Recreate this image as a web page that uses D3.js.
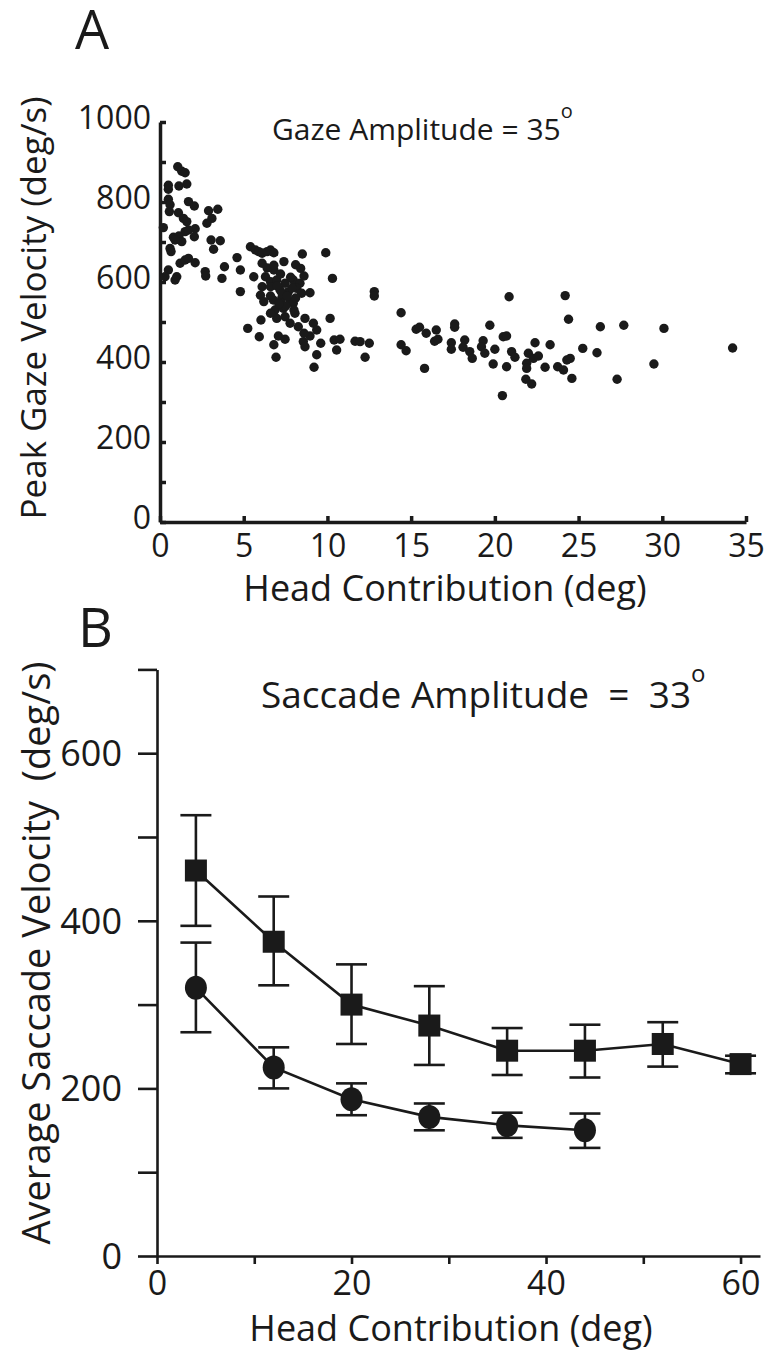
<!DOCTYPE html>
<html>
<head>
<meta charset="utf-8">
<script src="https://cdn.jsdelivr.net/npm/d3@7"></script>
<style>
  body { margin: 0; background: #fff; }
  svg { display: block; font-family: 'Open Sans', sans-serif; }
  .axis text { font-family: 'Open Sans', sans-serif; fill: #1a1a1a; }
  .axis path, .axis line { stroke: #1a1a1a; }
</style>
</head>
<body>
<script>
// panel A : head contribution (deg) vs peak gaze velocity (deg/s)
const scatterA = [
  [1.06,888],[1.3,877],[1.5,873],[0.5,842],[0.5,832],[1.13,840],[1.6,845],
  [0.5,807],[0.6,793],[1.7,801],[2.05,790],[2.9,778],[3.45,782],
  [0.56,776],[1.1,773],[1.4,759],[1.6,751],[3.1,759],[2.8,747],
  [0.2,736],[2.1,733],[2.05,713],[0.8,712],[1.13,715],[1.5,726],[1.7,730],
  [1.3,701],[0.9,705],[3.05,705],[3.6,703],[3.2,682],[0.6,684],[0.66,676],
  [1.2,647],[1.5,655],[1.7,659],[2.1,648],[3.85,638],[4.8,630],
  [2.7,626],[2.73,615],[0.5,630],[0.3,613],[1.0,613],[0.9,605],[3.7,609],[4.6,661],
  [5.4,688],[5.7,680],[5.9,676],[6.1,672],[6.4,676],[6.6,680],[6.8,673],
  [8.5,670],[9.9,673],[7.4,651],[8.1,643],[8.4,634],[6.8,630],
  [6.1,647],[6.4,635],[6.8,642],[6.3,613],[6.6,601],[5.6,613],[10.3,609],
  [6.1,588],[6.6,588],[4.8,576],
  [6.97,605],[7.47,597],[7.96,605],[8.36,597],[7.17,580],[7.67,576],[8.17,584],
  [6.77,555],[7.27,559],[7.77,551],[8.46,572],[6.87,530],[7.37,534],[7.96,547],
  [6.97,509],[7.47,513],[8.96,573],[8.06,522],[8.66,509],[7.77,497],[8.26,488],
  [9.16,497],[9.36,480],[10.16,509],[7.07,465],[7.47,457],[8.56,451],[8.66,438],
  [8.96,465],[9.6,447],[10.4,455],[10.75,457],[6.8,443],[6.93,412],[9.36,418],
  [10.55,430],[9.2,387],[6.0,567],[6.2,551],[6.6,522],[6.03,505],[5.24,484],[5.93,463],
  [8.6,472],[7.0,590],[7.3,570],[7.6,565],[7.9,585],[8.1,560],[7.5,540],
  [7.1,545],[8.0,530],[6.6,565],[7.8,612],[7.2,620],[8.6,615],
  [11.65,452],[11.95,451],[12.5,447],[12.25,412],[12.8,576],[12.8,565],
  [14.4,523],[14.4,443],[14.7,428],[15.3,482],[15.5,487],[15.9,472],[16.5,480],
  [16.4,452],[16.6,457],[15.8,384],[17.4,448],[17.4,432],[17.6,495],[17.6,487],
  [18.2,455],[18.1,437],[18.5,426],[18.65,409],[19.3,453],[19.2,438],[19.4,422],
  [19.7,492],[20.0,432],[19.9,395],[20.5,463],[20.7,465],[20.85,563],[21.0,426],
  [21.2,412],[20.7,388],[20.45,316],[22.4,448],[22.0,422],[22.3,409],[22.6,415],
  [21.9,397],[21.9,384],[21.85,357],[22.2,345],[23.0,387],[23.3,443],[23.75,388],
  [24.1,380],[24.3,405],[24.5,409],[24.2,566],[24.4,507],[24.6,359],
  [25.25,434],[26.1,423],[26.3,488],[27.7,492],[27.3,357],[29.5,395],[30.1,484],[34.2,435]
]
const xTicksA = [0,5,10,15,20,25,30,35]
const yTicksA = [0,200,400,600,800,1000]

// panel B : head contribution bins, mean +/- error
const headB = [4,12,20,28,36,44,52,60]
const squareMean = [460,375,300,275,245,245,253,229]
const squareHi   = [526,429,348,322,272,276,279,239]
const squareLo   = [394,323,253,228,216,213,226,218]
const circleMean = [320,225,187,166,156,150]
const circleHi   = [374,249,206,182,171,170]
const circleLo   = [267,200,168,150,141,129]
const xTicksB = [0,20,40,60]
const yTicksB = [0,200,400,600]

const ink = '#1a1a1a'

const svg = d3.select('body').append('svg')
  .attr('width', 767)
  .attr('height', 1355)

// ---------- panel A ----------
const xA = d3.scaleLinear().domain([0, 35]).range([160, 746])
const yA = d3.scaleLinear().domain([0, 1000]).range([522, 122])

const yAxisA = svg.append('g')
  .attr('class', 'axis')
  .attr('transform', 'translate(160,0)')
  .call(d3.axisLeft(yA)
    .tickValues(d3.range(0, 1001, 100))
    .tickSize(-6)
    .tickSizeOuter(0)
    .tickPadding(9)
    .tickFormat(d => yTicksA.includes(d) ? d : ''))
yAxisA.selectAll('path, line').attr('stroke-width', 3.5)
yAxisA.selectAll('text').attr('font-size', 32).attr('dy', '0.2em')

const xAxisA = svg.append('g')
  .attr('class', 'axis')
  .attr('transform', 'translate(0,522)')
  .call(d3.axisBottom(xA)
    .tickValues(xTicksA)
    .tickSize(-6)
    .tickSizeOuter(0)
    .tickPadding(12))
xAxisA.selectAll('path, line').attr('stroke-width', 3.5)
xAxisA.selectAll('text').attr('font-size', 32)

svg.append('g')
  .selectAll('circle')
  .data(scatterA)
  .enter()
  .append('circle')
  .attr('cx', d => xA(d[0]))
  .attr('cy', d => yA(d[1]))
  .attr('r', 4.7)
  .attr('fill', ink)

svg.append('text')
  .attr('x', 75).attr('y', 49)
  .attr('font-size', 54).attr('fill', ink)
  .text('A')

svg.append('text')
  .attr('transform', 'translate(46,308) rotate(-90)')
  .attr('text-anchor', 'middle')
  .attr('font-size', 35).attr('fill', ink)
  .text('Peak Gaze Velocity (deg/s)')

svg.append('text')
  .attr('x', 445).attr('y', 601)
  .attr('text-anchor', 'middle')
  .attr('font-size', 36).attr('fill', ink)
  .text('Head Contribution (deg)')

const noteA = svg.append('text')
  .attr('x', 272).attr('y', 140)
  .attr('font-size', 30).attr('fill', ink)
noteA.append('tspan').text('Gaze Amplitude = 35')
noteA.append('tspan').attr('dy', -22).attr('font-size', 20).text('o')

// ---------- panel B ----------
const xB = d3.scaleLinear().domain([0, 62]).range([157, 760])
const yB = d3.scaleLinear().domain([0, 700]).range([1256, 669.4])

const yAxisB = svg.append('g')
  .attr('class', 'axis')
  .attr('transform', 'translate(157,0)')
  .call(d3.axisLeft(yB)
    .tickValues(d3.range(0, 701, 100))
    .tickSize(19)
    .tickSizeOuter(0)
    .tickPadding(16)
    .tickFormat(d => yTicksB.includes(d) ? d : ''))
yAxisB.selectAll('path, line').attr('stroke-width', 2.6)
yAxisB.selectAll('text').attr('font-size', 36).attr('dy', '0.34em')

const xAxisB = svg.append('g')
  .attr('class', 'axis')
  .attr('transform', 'translate(0,1256)')
  .call(d3.axisBottom(xB)
    .tickValues(d3.range(0, 61, 10))
    .tickSize(8)
    .tickSizeOuter(0)
    .tickPadding(7)
    .tickFormat(d => xTicksB.includes(d) ? d : ''))
xAxisB.selectAll('path, line').attr('stroke-width', 2.6)
xAxisB.selectAll('text').attr('font-size', 34)

const line = d3.line()
  .x(d => xB(d[0]))
  .y(d => yB(d[1]))

const squares = headB.map((h, i) => ({ x: h, m: squareMean[i], lo: squareLo[i], hi: squareHi[i] }))
const circles = headB.slice(0, circleMean.length).map((h, i) => ({ x: h, m: circleMean[i], lo: circleLo[i], hi: circleHi[i] }))

const drawSeries = (data, shape) => {
  const g = svg.append('g')
  g.append('path')
    .attr('d', line(data.map(d => [d.x, d.m])))
    .attr('fill', 'none')
    .attr('stroke', ink)
    .attr('stroke-width', 2.6)

  const bars = g.selectAll('.err')
    .data(data)
    .enter()
    .append('g')
    .attr('stroke', ink)
    .attr('stroke-width', 2.6)
  bars.append('line')
    .attr('x1', d => xB(d.x)).attr('x2', d => xB(d.x))
    .attr('y1', d => yB(d.lo)).attr('y2', d => yB(d.hi))
  bars.append('line')
    .attr('x1', d => xB(d.x) - 15.5).attr('x2', d => xB(d.x) + 15.5)
    .attr('y1', d => yB(d.hi)).attr('y2', d => yB(d.hi))
  bars.append('line')
    .attr('x1', d => xB(d.x) - 15.5).attr('x2', d => xB(d.x) + 15.5)
    .attr('y1', d => yB(d.lo)).attr('y2', d => yB(d.lo))

  if (shape === 'square') {
    g.selectAll('rect')
      .data(data)
      .enter()
      .append('rect')
      .attr('x', d => xB(d.x) - 11)
      .attr('y', d => yB(d.m) - 11)
      .attr('width', 22)
      .attr('height', 22)
      .attr('fill', ink)
  } else {
    g.selectAll('ellipse')
      .data(data)
      .enter()
      .append('ellipse')
      .attr('cx', d => xB(d.x))
      .attr('cy', d => yB(d.m))
      .attr('rx', 11)
      .attr('ry', 12)
      .attr('fill', ink)
  }
}

drawSeries(squares, 'square')
drawSeries(circles, 'circle')

svg.append('text')
  .attr('x', 78).attr('y', 647)
  .attr('font-size', 54).attr('fill', ink)
  .text('B')

svg.append('text')
  .attr('transform', 'translate(50,953) rotate(-90)')
  .attr('text-anchor', 'middle')
  .attr('font-size', 38).attr('fill', ink)
  .style('white-space', 'pre')
  .text('Average Saccade Velocity  (deg/s)')

svg.append('text')
  .attr('x', 451).attr('y', 1341)
  .attr('text-anchor', 'middle')
  .attr('font-size', 36).attr('fill', ink)
  .text('Head Contribution (deg)')

const noteB = svg.append('text')
  .attr('x', 261).attr('y', 708)
  .attr('font-size', 37).attr('fill', ink)
  .style('white-space', 'pre')
noteB.append('tspan').text('Saccade Amplitude  =  33')
noteB.append('tspan').attr('dy', -26).attr('font-size', 24).text('o')
</script>
</body>
</html>
